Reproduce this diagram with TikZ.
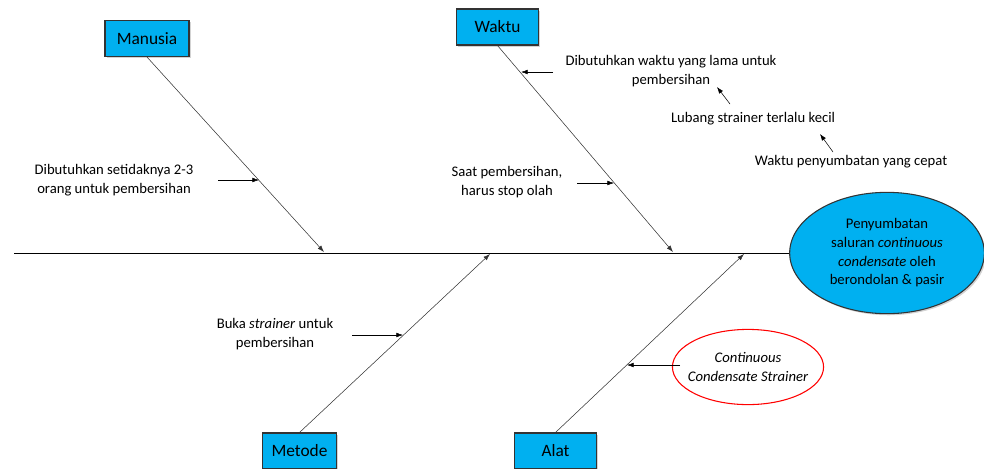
\documentclass[tikz,border=0pt]{standalone}
\usepackage{fontspec}
\setmainfont{Carlito}
\usetikzlibrary{arrows.meta,shadows,shapes.geometric}

\begin{document}
\begin{tikzpicture}[
		x=0.75pt, y=-0.75pt,
		bone/.style={
			draw=black!80,
			thin,
			-{Latex[length=5pt,width=3.5pt]},
		},
		note/.style={
			draw=black,
			thin,
			-{Latex[length=5pt,width=3.5pt]},
		},
		cause/.style={
			draw=black!80,
			fill={rgb,255:red,0;green,176;blue,240},
			thick,
			minimum height=27pt,
			font=\fontsize{13}{15}\selectfont,
			drop shadow={opacity=0.35, shadow xshift=1.2pt, shadow yshift=-1.2pt},
		},
		txt/.style={
			align=center,
			inner sep=0pt,
			font=\fontsize{11}{14.2}\selectfont,
		},
	]
	\useasboundingbox (0,0) rectangle (984,468);

	% head and spine
	\node [ellipse, draw=black!80, thick, fill={rgb,255:red,0;green,176;blue,240},
		minimum width=146pt, minimum height=91pt, align=center, inner sep=0pt,
		font=\fontsize{11}{14}\selectfont,
		drop shadow={opacity=0.35, shadow xshift=1.2pt, shadow yshift=-1.2pt}]
		(head) at (887,253) {Penyumbatan\\saluran \textit{continuous}\\\textit{condensate} oleh\\berondolan \& pasir};
	\coordinate (tail) at (14,253);
	\draw [black, thin] (tail) -- (head.west);

	% causes
	\node [cause, minimum width=63pt] (man) at (147,38.5) {Manusia};
	\node [cause, minimum width=62pt] (wak) at (497.5,27) {Waktu};
	\node [cause, minimum width=56pt] (met) at (299.5,451) {Metode};
	\node [cause, minimum width=62pt] (ala) at (555.5,451) {Alat};

	\coordinate (mtip) at (324,252);
	\coordinate (wtip) at (673,252);
	\coordinate (etip) at (490,254);
	\coordinate (atip) at (744,254);

	\draw [bone] (man.south) -- (mtip);
	\draw [bone] (wak.south) -- (wtip);
	\draw [bone] (met.north) -- (etip);
	\draw [bone] (ala.north) -- (atip);

	% notes
	\node [txt] (n1) at (114,180) {Dibutuhkan setidaknya 2-3\\orang untuk pembersihan};
	\node [txt] (n2) at (671,71) {Dibutuhkan waktu yang lama untuk\\pembersihan};
	\node [txt] (n3) at (753,119) {Lubang strainer terlalu kecil};
	\node [txt] (n4) at (851,162) {Waktu penyumbatan yang cepat};
	\node [txt] (n5) at (507,182.5) {Saat pembersihan,\\harus stop olah};
	\node [txt] (n6) at (275,334.5) {Buka \textit{strainer} untuk\\pembersihan};
	\node [ellipse, draw=red, thick, inner xsep=-5pt, inner ysep=9pt,
		align=center, font=\fontsize{11}{14.2}\selectfont\itshape]
		(n7) at (748,367) {Continuous\\Condensate Strainer};

	\coordinate (p1) at (259,180);
	\coordinate (p2) at (521,72);
	\coordinate (p5) at (614,183);
	\coordinate (p6) at (403,335);
	\coordinate (p7) at (627,365);
	\coordinate (q3) at (717,87);
	\coordinate (q4) at (820,134);

	\draw [note] (218,180) coordinate (s1) -- (p1);
	\draw [note] (553,72) coordinate (s2) -- (p2);
	\draw [note] (577,183) coordinate (s5) -- (p5);
	\draw [note] (352,335) coordinate (s6) -- (p6);
	\draw [note] (680,365) coordinate (s7) -- (p7);
	\draw [note] (730,104) coordinate (s3) -- (q3);
	\draw [note] (833,152) coordinate (s4) -- (q4);

\end{tikzpicture}
\end{document}
